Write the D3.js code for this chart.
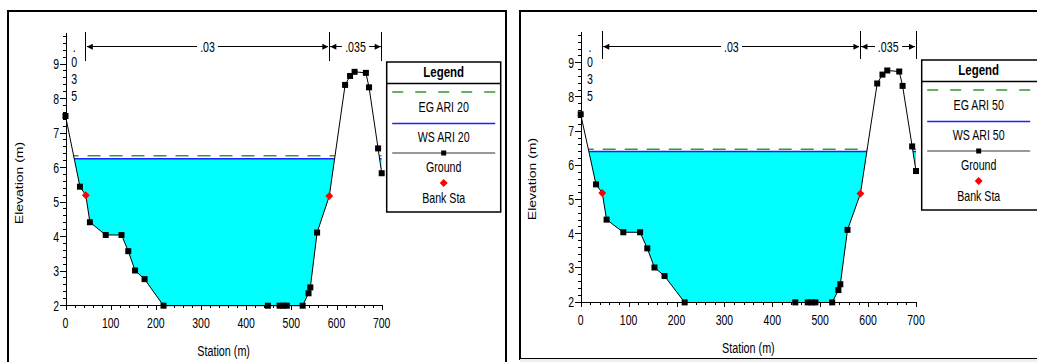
<!DOCTYPE html>
<html lang="en">
<head>
  <meta charset="UTF-8">
  <title>Cross Section</title>
  <script src="https://d3js.org/d3.v7.min.js"></script>
  <style>
    body { margin: 0; background: #fff; }
    svg { display: block; }
  </style>
</head>
<body>
  <script>
    // ground survey of the cross section
    const stations = [0, 32, 45, 54, 89, 124, 139, 154, 175, 217, 448, 474, 482, 490,
      525, 538, 542, 557, 584, 619, 630, 640, 665, 672, 692, 700];
    const elevations = [7.48, 5.43, 5.18, 4.40, 4.03, 4.03, 3.56, 3.00, 2.75, 1.98, 1.98, 1.98, 1.98, 1.98,
      1.98, 2.34, 2.51, 4.10, 5.16, 8.38, 8.64, 8.76, 8.73, 8.31, 6.54, 5.82];
    const bankStations = [45, 584];

    // Manning's n regions
    const nBreaks = [0, 45, 584, 700];
    const nValues = [".035", ".03", ".035"];

    // profiles, one per panel
    const profiles = ["ARI 20", "ARI 50"];
    const wsElev = [6.24, 6.39];
    const egElev = [6.33, 6.46];

    const xTicks = [0, 100, 200, 300, 400, 500, 600, 700];
    const yTicks = [2, 3, 4, 5, 6, 7, 8, 9];
    const xDomain = [0, 700];
    const yDomain = [2, 9.9];

    const FONT = "'Liberation Sans', Arial, sans-serif";
    const SX = 0.76;

    const W = 1037, H = 362;
    const svg = d3.select("body").append("svg").attr("width", W).attr("height", H);
    svg.append("rect").attr("width", W).attr("height", H).attr("fill", "#fff");

    // panel geometry (pixels)
    const panels = [
      { frame: [8, 11, 498, 400], xr: [65.5, 381.7], yr: [305, 32.5], nTop: 32, nBot: 61, nY: 46.7,
        legend: [386.7, 62, 114, 150], elevLabel: [23, 183] },
      { frame: [520, 11, 600, 348], xr: [580.7, 916], yr: [301.7, 31.5], nTop: 31, nBot: 59.3, nY: 46.7,
        legend: [921.7, 60, 120, 150], elevLabel: [535.5, 179] }
    ];

    function txt(g, x, y, s, o = {}) {
      return g.append("text")
        .attr("transform", `translate(${x},${y}) scale(${o.sx || SX},1)`)
        .attr("text-anchor", o.anchor || "middle")
        .attr("font-family", FONT)
        .attr("font-size", o.size || 14)
        .attr("font-weight", o.bold ? "bold" : null)
        .attr("fill", "#000")
        .text(s);
    }

    function arrow(g, x, y, dir) {
      // dir = -1 points left, 1 points right, tip at x
      g.append("path")
        .attr("d", `M${x},${y} L${x - dir * 6},${y - 3} L${x - dir * 6},${y + 3} Z`)
        .attr("fill", "#000");
    }

    panels.forEach((p, i) => {
      const g = svg.append("g");
      const x = d3.scaleLinear().domain(xDomain).range(p.xr);
      const y = d3.scaleLinear().domain(yDomain).range(p.yr);
      const ground = stations.map((s, k) => [s, elevations[k]]);

      // frame
      g.append("rect")
        .attr("x", p.frame[0]).attr("y", p.frame[1])
        .attr("width", p.frame[2]).attr("height", p.frame[3])
        .attr("fill", "none").attr("stroke", "#000").attr("stroke-width", 2);

      // region above the ground, used to clip the water
      const clipId = "above" + i;
      const abovePts = ground.map(d => [x(d[0]), y(d[1])])
        .concat([[x(xDomain[1]), y(yDomain[1]) - 5], [x(xDomain[0]), y(yDomain[1]) - 5]]);
      g.append("clipPath").attr("id", clipId)
        .append("polygon").attr("points", abovePts.map(d => d.join(",")).join(" "));

      const water = g.append("g").attr("clip-path", `url(#${clipId})`);
      water.append("rect")
        .attr("x", x(xDomain[0])).attr("y", y(wsElev[i]))
        .attr("width", x(xDomain[1]) - x(xDomain[0]))
        .attr("height", y(yDomain[0]) - y(wsElev[i]))
        .attr("fill", "#00ffff");
      water.append("line")
        .attr("x1", x(xDomain[0])).attr("x2", x(xDomain[1]))
        .attr("y1", y(wsElev[i])).attr("y2", y(wsElev[i]))
        .attr("stroke", "#1f1fff").attr("stroke-width", 1.5);
      water.append("line")
        .attr("x1", x(xDomain[0])).attr("x2", x(xDomain[1]))
        .attr("y1", y(egElev[i])).attr("y2", y(egElev[i]))
        .attr("stroke", "#339933").attr("stroke-width", 1.5)
        .attr("stroke-dasharray", "13,9");

      // ground line and points
      g.append("path")
        .attr("d", d3.line().x(d => x(d[0])).y(d => y(d[1]))(ground))
        .attr("fill", "none").attr("stroke", "#000").attr("stroke-width", 1);
      g.selectAll(".pt").data(ground.filter(d => !bankStations.includes(d[0])))
        .enter().append("rect")
        .attr("x", d => x(d[0]) - 3).attr("y", d => y(d[1]) - 3)
        .attr("width", 6).attr("height", 6).attr("fill", "#000");
      g.selectAll(".bank").data(ground.filter(d => bankStations.includes(d[0])))
        .enter().append("path")
        .attr("d", d3.symbol().type(d3.symbolDiamond2).size(40))
        .attr("transform", d => `translate(${x(d[0])},${y(d[1])})`)
        .attr("fill", "#ff0000");

      // axes
      const xMinor = d3.range(0, 701, 20);
      const yMinor = d3.range(2, 9.81, 0.2);
      const axX = g.append("g").attr("transform", `translate(0,${p.yr[0]})`);
      axX.call(d3.axisBottom(x).tickValues(xMinor).tickFormat("").tickSize(3).tickSizeOuter(0));
      axX.append("g").call(d3.axisBottom(x).tickValues(xTicks).tickFormat("").tickSize(5).tickSizeOuter(0));
      const axY = g.append("g").attr("transform", `translate(${p.xr[0]},0)`);
      axY.call(d3.axisLeft(y).tickValues(yMinor).tickFormat("").tickSize(3).tickSizeOuter(0));
      axY.append("g").call(d3.axisLeft(y).tickValues(yTicks).tickFormat("").tickSize(6).tickSizeOuter(0));
      g.selectAll(".domain, .tick line").attr("stroke", "#000").attr("shape-rendering", "crispEdges");

      xTicks.forEach(v => txt(g, x(v), p.yr[0] + 23, v, { size: 15, sx: 0.7 }));
      yTicks.forEach(v => txt(g, p.xr[0] - 6.5, y(v) + 5.5, v, { anchor: "end", size: 15, sx: 0.7 }));

      txt(g, (p.xr[0] + p.xr[1]) / 2, p.yr[0] + 51, "Station (m)", { size: 15, sx: 0.72 });
      g.append("text")
        .attr("transform", `translate(${p.elevLabel[0]},${p.elevLabel[1]}) rotate(-90) scale(1,0.8)`)
        .attr("text-anchor", "middle").attr("font-family", FONT).attr("font-size", 14)
        .text("Elevation (m)");

      // Manning's n bar
      nBreaks.slice(1).forEach(b => {
        g.append("line").attr("x1", x(b)).attr("x2", x(b)).attr("y1", p.nTop).attr("y2", p.nBot)
          .attr("stroke", "#000").attr("stroke-width", 1).attr("shape-rendering", "crispEdges");
      });
      nValues.forEach((n, k) => {
        const xa = x(nBreaks[k]), xb = x(nBreaks[k + 1]);
        const mid = (xa + xb) / 2;
        if (xb - xa < 30) {
          // narrow region: value written downwards
          n.split("").forEach((c, j) => {
            txt(g, mid - 1.5, p.nY + [5, 20, 37, 54][j], c);
          });
          return;
        }
        const t = txt(g, mid, p.nY + 5, n);
        const half = t.node().getComputedTextLength() * SX / 2 + 3;
        g.append("line").attr("x1", xa + 1).attr("x2", mid - half).attr("y1", p.nY).attr("y2", p.nY)
          .attr("stroke", "#000").attr("shape-rendering", "crispEdges");
        g.append("line").attr("x1", mid + half).attr("x2", xb - 1).attr("y1", p.nY).attr("y2", p.nY)
          .attr("stroke", "#000").attr("shape-rendering", "crispEdges");
        arrow(g, xa + 1, p.nY, -1);
        arrow(g, xb - 1, p.nY, 1);
      });

      // legend
      const [lx, ly, lw, lh] = p.legend;
      const lg = g.append("g");
      lg.append("rect").attr("x", lx).attr("y", ly).attr("width", lw).attr("height", lh)
        .attr("fill", "#fff").attr("stroke", "#000").attr("stroke-width", 1.5);
      lg.append("line").attr("x1", lx).attr("x2", lx + lw).attr("y1", ly + 21.5).attr("y2", ly + 21.5)
        .attr("stroke", "#000").attr("stroke-width", 1.5);
      txt(lg, lx + 57, ly + 15, "Legend", { bold: true, sx: 0.82 });
      const l1 = lx + 5.5, l2 = lx + 108.5, lc = lx + 57;
      lg.append("line").attr("x1", l1).attr("x2", l2).attr("y1", ly + 30).attr("y2", ly + 30)
        .attr("stroke", "#339933").attr("stroke-width", 1.5).attr("stroke-dasharray", "11,12");
      txt(lg, lc, ly + 50, "EG " + profiles[i]);
      lg.append("line").attr("x1", l1).attr("x2", l2).attr("y1", ly + 61.5).attr("y2", ly + 61.5)
        .attr("stroke", "#1f1fff").attr("stroke-width", 1.5);
      txt(lg, lc, ly + 80, "WS " + profiles[i]);
      lg.append("line").attr("x1", l1).attr("x2", l2).attr("y1", ly + 91).attr("y2", ly + 91)
        .attr("stroke", "#333").attr("stroke-width", 1);
      lg.append("rect").attr("x", lc - 2.5).attr("y", ly + 88.5).attr("width", 5).attr("height", 5).attr("fill", "#000");
      txt(lg, lc, ly + 110, "Ground");
      lg.append("path").attr("d", d3.symbol().type(d3.symbolDiamond2).size(40))
        .attr("transform", `translate(${lc},${ly + 121})`).attr("fill", "#ff0000");
      txt(lg, lc, ly + 141, "Bank Sta");
    });

    // grey strip under the right panel
    svg.append("rect").attr("x", 520).attr("y", 359).attr("width", W - 520).attr("height", 3).attr("fill", "#eeeeee");
  </script>
</body>
</html>
